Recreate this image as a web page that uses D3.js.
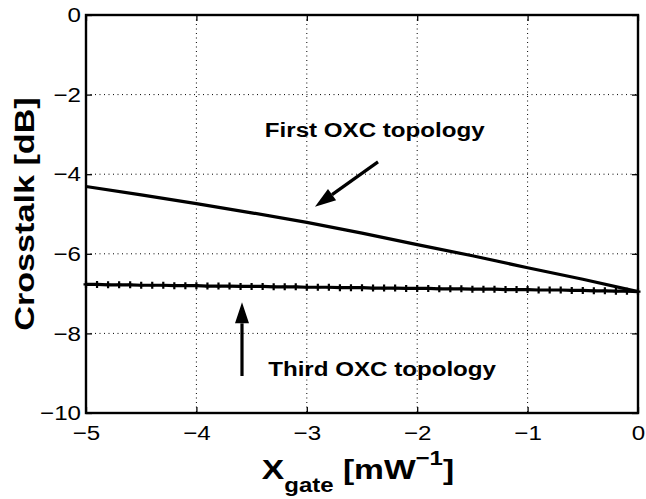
<!DOCTYPE html>
<html><head><meta charset="utf-8">
<script src="https://cdn.jsdelivr.net/npm/d3@7/dist/d3.min.js"></script>
<style>body{margin:0;background:#fff}svg{display:block}</style>
</head><body>
<svg id="c" width="646" height="499"></svg>
<script>
const xTicks = [-5, -4, -3, -2, -1, 0];
const yTicks = [0, -2, -4, -6, -8, -10];
const firstX = [-5, -4.5, -4, -3.5, -3, -2.5, -2, -1.5, -1, -0.5, 0];
const firstY = [-4.31, -4.52, -4.74, -4.97, -5.21, -5.48, -5.77, -6.05, -6.35, -6.64, -6.95];
const thirdX = [-5,-4.9,-4.8,-4.7,-4.6,-4.5,-4.4,-4.3,-4.2,-4.1,-4,-3.9,-3.8,-3.7,-3.6,-3.5,-3.4,-3.3,-3.2,-3.1,-3,-2.9,-2.8,-2.7,-2.6,-2.5,-2.4,-2.3,-2.2,-2.1,-2,-1.9,-1.8,-1.7,-1.6,-1.5,-1.4,-1.3,-1.2,-1.1,-1,-0.9,-0.8,-0.7,-0.6,-0.5,-0.4,-0.3,-0.2,-0.1,0];
const thirdY = [-6.77,-6.77,-6.78,-6.78,-6.78,-6.79,-6.79,-6.79,-6.80,-6.80,
  -6.80,-6.81,-6.81,-6.81,-6.82,-6.82,-6.82,-6.83,-6.83,-6.83,
  -6.84,-6.84,-6.84,-6.85,-6.85,-6.85,-6.86,-6.86,-6.86,-6.87,
  -6.87,-6.87,-6.88,-6.88,-6.88,-6.89,-6.89,-6.89,-6.90,-6.90,
  -6.90,-6.91,-6.91,-6.91,-6.92,-6.92,-6.93,-6.93,-6.94,-6.94,-6.95];
const labels = [
  {text: "First OXC topology", x: -3.38, y: -3.06},
  {text: "Third OXC topology", x: -3.35, y: -9.07}
];
const arrows = [
  {x1: -2.355, y1: -3.69, x2: -2.926, y2: -4.82},
  {x1: -3.587, y1: -9.07, x2: -3.587, y2: -7.22}
];

const svg = d3.select("#c");
const L = 86, R = 638, T = 15, B = 413;
const x = d3.scaleLinear().domain([-5, 0]).range([L, R]);
const y = d3.scaleLinear().domain([-10, 0]).range([B, T]);
const font = "'Liberation Sans', Arial, Helvetica, sans-serif";
const SX = 1.15;
const fmt = d => d3.format("d")(d).replace("-", "\u2212");

// grid
const g = svg.append("g");
g.selectAll(".gx").data(xTicks.filter(d => d > -5 && d < 0)).enter().append("line")
  .attr("x1", d => x(d)).attr("x2", d => x(d)).attr("y1", T).attr("y2", B)
  .attr("stroke", "#000").attr("stroke-width", 1).attr("stroke-dasharray", "1,3.5");
g.selectAll(".gy").data(yTicks.filter(d => d > -10 && d < 0)).enter().append("line")
  .attr("y1", d => y(d)).attr("y2", d => y(d)).attr("x1", L).attr("x2", R)
  .attr("stroke", "#000").attr("stroke-width", 1).attr("stroke-dasharray", "1,3.5");

// axes via d3
svg.append("g").attr("transform", `translate(0,${B})`)
  .call(d3.axisBottom(x).tickValues(xTicks).tickSize(-6).tickPadding(12).tickFormat(fmt));
svg.append("g").attr("class", "yax").attr("transform", `translate(${L},0)`)
  .call(d3.axisLeft(y).tickValues(yTicks).tickSize(-6).tickPadding(5).tickFormat(fmt));
svg.append("g").attr("transform", `translate(0,${T})`)
  .call(d3.axisTop(x).tickValues(xTicks).tickSize(-6).tickFormat(""));
svg.append("g").attr("transform", `translate(${R},0)`)
  .call(d3.axisRight(y).tickValues(yTicks).tickSize(-6).tickFormat(""));
svg.selectAll(".domain").remove();
svg.selectAll(".tick line").attr("stroke", "#000").attr("stroke-width", 1.3);
svg.selectAll(".tick text").attr("font-family", font).attr("font-size", 21).attr("fill", "#000")
  .attr("transform", `scale(${SX},1)`);
svg.selectAll(".yax .tick text").attr("x", -5 / SX);

// box
svg.append("rect").attr("x", L).attr("y", T).attr("width", R - L).attr("height", B - T)
  .attr("fill", "none").attr("stroke", "#000").attr("stroke-width", 2.4);

// lines
const line = d3.line().x(d => x(d[0])).y(d => y(d[1]));
svg.append("path").datum(firstX.map((v, i) => [v, firstY[i]]))
  .attr("d", line).attr("fill", "none").attr("stroke", "#000").attr("stroke-width", 3.2);
const third = thirdX.map((v, i) => [v, thirdY[i]]);
svg.append("path").datum(third)
  .attr("d", line).attr("fill", "none").attr("stroke", "#000").attr("stroke-width", 3.2);
svg.selectAll(".mk").data(third).enter().append("path")
  .attr("d", d => `M${x(d[0]) - 2.5},${y(d[1])}h5M${x(d[0])},${y(d[1]) - 3.5}v7`)
  .attr("stroke", "#000").attr("stroke-width", 2.2);

// arrows
arrows.forEach(a => {
  const X1 = x(a.x1), Y1 = y(a.y1), X2 = x(a.x2), Y2 = y(a.y2);
  const ang = Math.atan2(Y2 - Y1, X2 - X1);
  const hl = 21, hw = 7;
  const bx = X2 - hl * Math.cos(ang), by = Y2 - hl * Math.sin(ang);
  svg.append("line").attr("x1", X1).attr("y1", Y1).attr("x2", bx).attr("y2", by)
    .attr("stroke", "#000").attr("stroke-width", 3.2);
  const px = -Math.sin(ang) * hw, py = Math.cos(ang) * hw;
  svg.append("path").attr("d", `M${X2},${Y2}L${bx + px},${by + py}L${bx - px},${by - py}Z`).attr("fill", "#000");
});

// labels
svg.selectAll(".lab").data(labels).enter().append("g")
  .attr("transform", d => `translate(${x(d.x)},${y(d.y)}) scale(${SX},1)`)
  .append("text").text(d => d.text)
  .attr("font-family", font).attr("font-weight", "bold").attr("font-size", 21).attr("fill", "#000");

// axis titles
svg.append("g").attr("transform", `translate(34,${(T + B) / 2}) rotate(-90) scale(1.22,1)`)
  .append("text").attr("text-anchor", "middle").attr("font-family", font).attr("font-weight", "bold")
  .attr("font-size", 28).text("Crosstalk [dB]");
const xt = svg.append("g").attr("transform", `translate(${(L + R) / 2 - 4},479) scale(1.2,1)`)
  .append("text").attr("text-anchor", "middle")
  .attr("font-family", font).attr("font-weight", "bold").attr("font-size", 28);
xt.append("tspan").text("X");
xt.append("tspan").attr("font-size", 20).attr("dy", 13).text("gate");
xt.append("tspan").attr("dy", -13).text(" [mW");
xt.append("tspan").attr("font-size", 20).attr("dy", -14).text("\u22121");
xt.append("tspan").attr("dy", 14).text("]");
</script>
</body></html>
